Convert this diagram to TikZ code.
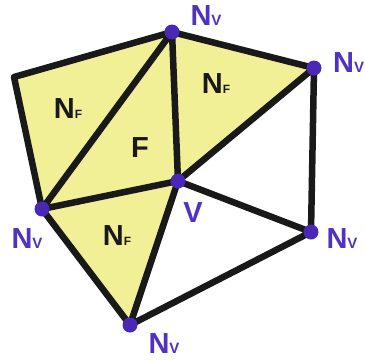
\documentclass[tikz,border=0pt]{standalone}
\usepackage{fontspec}
\setmainfont{Liberation Sans}
\definecolor{faceyel}{RGB}{242,240,150}
\definecolor{vblue}{RGB}{80,50,195}
\definecolor{dotblue}{RGB}{72,40,180}
\begin{document}
\begin{tikzpicture}[x=1pt,y=-1pt,
  edge/.style={line width=6.5pt,line cap=round,line join=round,black!90},
  vdot/.style={circle,fill=dotblue,inner sep=0pt,minimum size=15pt},
  vlab/.style={text=vblue,font=\bfseries\fontsize{29}{29}\selectfont,inner sep=0pt,anchor=base},
  flab/.style={text=black!90,font=\bfseries\fontsize{29}{29}\selectfont,inner sep=0pt,anchor=base}]
\useasboundingbox (0,0) rectangle (365,360);
\coordinate (UL) at (14,77);
\coordinate (T) at (172,32);
\coordinate (R1) at (314,68);
\coordinate (V) at (178,181);
\coordinate (L) at (42,209);
\coordinate (R2) at (311,232);
\coordinate (B) at (130,325);
\fill[faceyel] (L) -- (UL) -- (T) -- (R1) -- (V) -- (B) -- cycle;
\draw[edge] (UL) -- (T) (UL) -- (L) (L) -- (T) (T) -- (V) (T) -- (R1) (R1) -- (V)
  (L) -- (V) (R1) -- (R2) (V) -- (R2) (L) -- (B) (V) -- (B) (B) -- (R2);
\foreach \p in {T,R1,V,L,R2,B} \node[vdot] (d\p) at (\p) {};
\newcommand{\subv}[1]{{\fontsize{15}{15}\selectfont #1}}
\newcommand{\subf}[1]{{\fontsize{12}{12}\selectfont #1}}
\node[vlab] (lT) at (206,25) {N\subv{V}};
\node[vlab,anchor=base west] (lR1) at (333,72) {N\subv{V}};
\node[vlab] (lL) at (27,248) {N\subv{V}};
\node[vlab] (lR2) at (342,248) {N\subv{V}};
\node[vlab] (lB) at (164,353) {N\subv{V}};
\node[vlab] (lV) at (193,222) {V};
\node[flab] (f1) at (68,118) {N\subf{F}};
\node[flab] (f2) at (216,93) {N\subf{F}};
\node[flab] (f3) at (117,245) {N\subf{F}};
\node[flab] (f0) at (140,157) {F};
\end{tikzpicture}
\end{document}
